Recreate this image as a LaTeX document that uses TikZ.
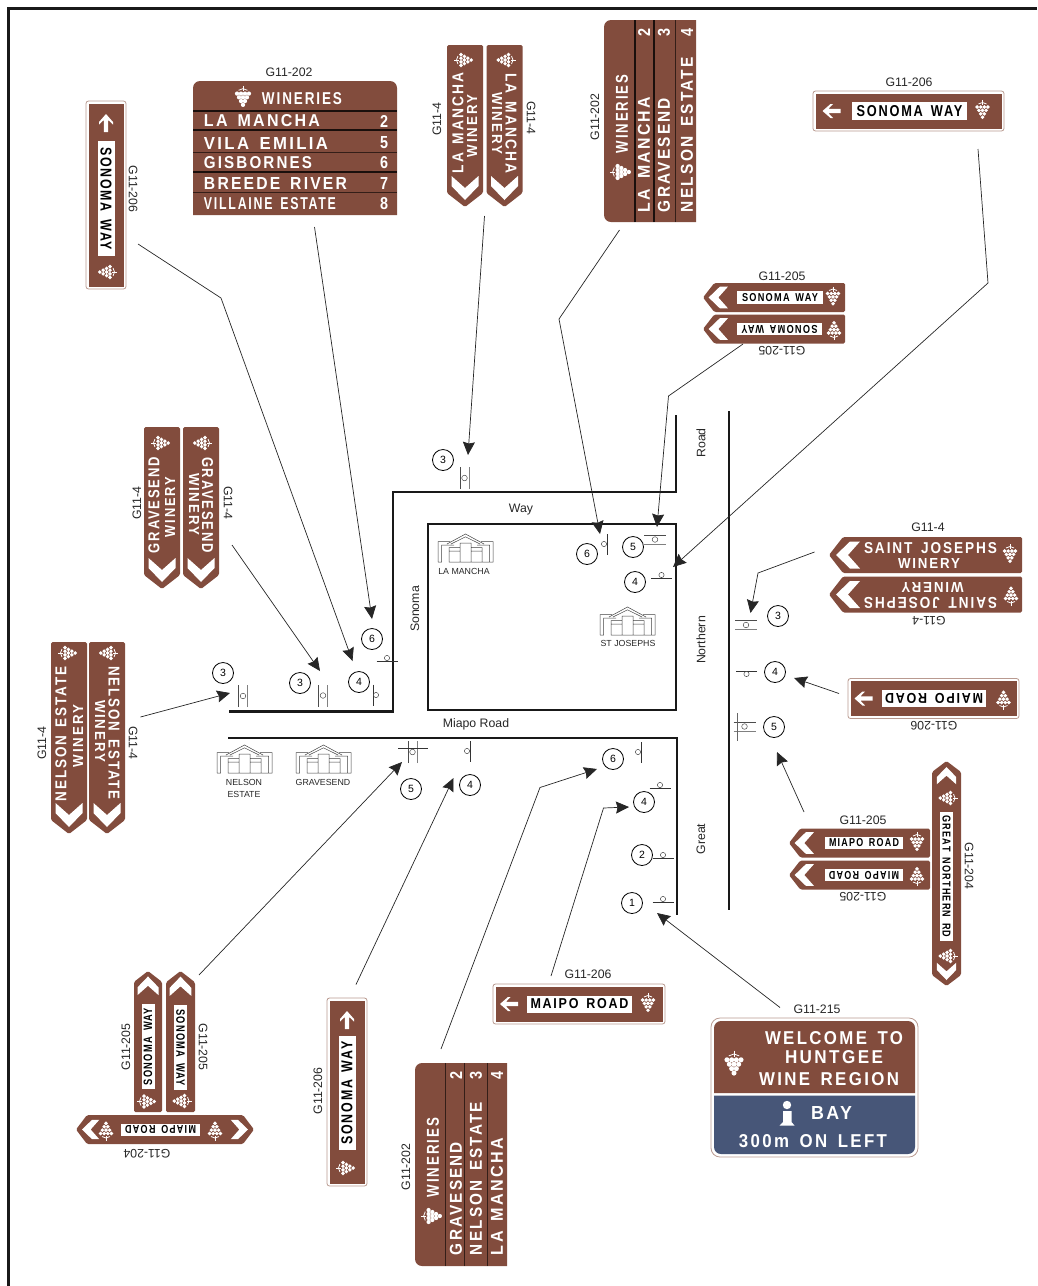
\documentclass[tikz,border=0pt]{standalone}
\usepackage{fontspec}
\usepackage{graphicx}
\usetikzlibrary{arrows.meta}
\setmainfont{Liberation Sans}
\newfontfamily\signfont[LetterSpace=14,WordSpace=1.5]{Liberation Sans}
\definecolor{signbrown}{HTML}{824C3D}
\definecolor{signblue}{HTML}{475678}
\definecolor{signedge}{HTML}{B99A90}
\tikzset{
  road/.style={line width=2.4pt,black!90},
  leader/.style={line width=.7pt,black!85,-{Stealth[length=13pt,width=12pt,inset=1.5pt]}},
  signtext/.style={transform shape,inner sep=0pt,outer sep=0pt},
  signrim/.style={fill=white,draw=signedge,line width=.8pt},
  signrule/.style={line width=1.2pt,black!80!signbrown},
  signrule thin/.style={line width=.6pt,black!60!signbrown},
  signcode/.style={inner sep=0pt,font=\fontsize{12.3}{14}\selectfont,black!85},
  roadname/.style={inner sep=0pt,font=\fontsize{12.3}{14}\selectfont,black!85},
  housename/.style={inner sep=0pt,font=\fontsize{8.8}{10}\selectfont,black!85},
  stage/.style={circle,draw,line width=.8pt,minimum size=21pt,inner sep=0pt,font=\fontsize{10.5}{12}\selectfont},
  grape/.pic={
    \draw[white,line width=.8pt] (0,-11) -- (0,-6);
    \draw[white,line width=.8pt] (-4,-7) -- (0,-8.5) -- (4,-7);
    \foreach \gx/\gy in {-5.4/-4,-1.8/-4,1.8/-4,5.4/-4,-3.6/-.6,0/-.6,3.6/-.6,-1.8/2.8,1.8/2.8,0/6.2}
    \fill[white] (\gx,\gy) circle [radius=1.95pt];
  },
  chevron/.pic={
    \fill[white] (0,0) -- (14,-13.5) -- (24,-13.5) -- (12,0) -- (24,13.5) -- (14,13.5) -- cycle;
  },
  signarrow/.pic={
    \fill[white] (-9,0) -- (-1,-7) -- (1.5,-7) -- (-3,-2.2) -- (9,-2.2) -- (9,2.2) -- (-3,2.2) -- (1.5,7) -- (-1,7) -- cycle;
  },
  post/.pic={
    \draw[line width=.7pt,black!80] (-10.5,0) -- (10.5,0);
    \draw[line width=.5pt,black!70] (0,-3) circle [radius=2.6pt];
  },
  postpair/.pic={
    \draw[line width=.7pt,black!70] (-11,-4.5) -- (11,-4.5);
    \draw[line width=.7pt,black!50] (-11,4.5) -- (11,4.5);
    \draw[line width=.5pt,black!70] (0,0) circle [radius=2.8pt];
  },
  house/.pic={
    \draw[line width=.5pt,black!75]
      (9,10) -- (27.5,0) -- (46,10) (13,10) -- (27.5,2.8) -- (42,10)
      (0,28) -- (0,7.5) -- (12,7.5) (43,7.5) -- (55,7.5) -- (55,28) -- (44,28)
      (0,28) -- (3.5,28) -- (3.5,11) -- (16,11) (39,11) -- (51.5,11) -- (51.5,28)
      (11,17) rectangle (22,28) (33,17) rectangle (44,28)
      (22,17) -- (22,9) -- (33,9) -- (33,17) (22,28) -- (33,28)
      (11,17) -- (11,13.5) -- (22,13.5) (33,13.5) -- (44,13.5) -- (44,17);
  }
}
\newcommand{\signword}[7][white]{%
  \node[signtext,text=#1] (#2) at (#3,#4) {\resizebox{#5pt}{#6pt}{\signfont\bfseries #7}};}
\newcommand{\panelword}[7]{%
  \fill[white] (#2-#3/2,-#4/2) rectangle (#2+#3/2,#4/2);
  \signword[black]{#1}{#2}{0}{#5}{#6}{#7}}
\newcommand{\boardsign}[4]{%
  \begin{scope}[shift={(#1)},rotate=#2,transform shape]
    \draw[signrim,rounded corners=2.5pt] (-#3/2,-20) rectangle (#3/2,20);
    \fill[signbrown] (-#3/2+2.5,-17.5) rectangle (#3/2-2.5,17.5);
    #4
  \end{scope}}
\newcommand{\fingersign}[6]{%
  \begin{scope}[shift={(#1)},rotate=#2,transform shape]
    \fill[signbrown,rounded corners=1.5pt] (-#4/2,0) -- (-#4/2+14*#5/36,-#5/2) -- (#4/2,-#5/2)
      -- (#4/2,#5/2) -- (-#4/2+14*#5/36,#5/2) -- cycle;
    \pic[scale=#5/36] at (-#4/2+7*#5/36,0) {chevron};
    \begin{scope}[rotate=#3]
      #6
    \end{scope}
  \end{scope}}
\newcommand{\doublesign}[5]{%
  \begin{scope}[shift={(#1)},rotate=#2,transform shape]
    \fill[signbrown,rounded corners=1.5pt] (-#3/2,0) -- (-#3/2+11,-#4/2) -- (#3/2-11,-#4/2)
      -- (#3/2,0) -- (#3/2-11,#4/2) -- (-#3/2+11,#4/2) -- cycle;
    \pic[scale=.72] at (-#3/2+6,0) {chevron};
    \pic[scale=.72,rotate=180] at (#3/2-6,0) {chevron};
    #5
  \end{scope}}
\newcommand{\wineryboard}[5]{%
  \begin{scope}[shift={(#1)},rotate=#2,transform shape]
    \fill[signbrown] (-#3/2,#4/2) [rounded corners=7pt] -- (-#3/2,-#4/2) -- (#3/2,-#4/2)
      [sharp corners] -- (#3/2,#4/2) -- cycle;
    #5
  \end{scope}}
\begin{document}
\begin{tikzpicture}[x=1pt,y=-1pt]
  \useasboundingbox (0,0) rectangle (1037,1286);
  \draw[line width=2.6pt,black!90] (8.5,1286) -- (8.5,8.5) -- (1037,8.5);

  \draw[road] (676,415) -- (676,492) -- (393,492) -- (393,711.5) -- (229,711.5);
  \draw[road] (428,524) rectangle (676,710);
  \draw[road] (228,738) -- (677,738) -- (677,915);
  \draw[road] (729,411) -- (729,910);

  \node[roadname,rotate=90] (rdRoad) at (701,443) {Road};
  \node[roadname,rotate=90] (rdNorthern) at (701,640) {Northern};
  \node[roadname,rotate=90] (rdGreat) at (701,839) {Great};
  \node[roadname] (rdWay) at (521,510) {Way};
  \node[roadname,rotate=90] (rdSonoma) at (415,609) {Sonoma};
  \node[roadname] (rdMiapo) at (476,724) {Miapo Road};

  \pic at (438,534) {house};
  \pic at (600,607) {house};
  \pic at (217,745) {house};
  \pic at (296,745) {house};
  \node[housename] (hsLaMancha) at (464,571) {LA MANCHA};
  \node[housename] (hsStJosephs) at (628,643) {ST JOSEPHS};
  \node[housename] (hsNelson) at (244,782) {NELSON};
  \node[housename] (hsEstate) at (244,794) {ESTATE};
  \node[housename] (hsGravesend) at (323,782) {GRAVESEND};

  \foreach \x/\y/\r in {373/695/-90,387/661/0,607/544/90,661.5/578/0,470/751/90,641/752/90,660/788/0,663/858/0,663/902/0,746.5/671/180}
  \pic[rotate=\r] at (\x,\y) {post};
  \foreach \x/\y/\r in {464.5/478/90,243/696/90,323/695.5/90,655/539.5/0,746/625/0,412.5/752/90,744.5/726.5/0}
  \pic[rotate=\r] at (\x,\y) {postpair};
  \draw[line width=.7pt,black!80] (398,748) -- (428,748);
  \draw[line width=.7pt,black!60] (737,713) -- (737,741);

  \foreach \id/\x/\y/\n in {a/443/460/3,b/223/673/3,c/300/683/3,d/359/682/4,e/372/639/6,f/587/554/6,g/633/547/5,h/635/582/4,i/411/789/5,j/470/785/4,k/613/759/6,l/644/802/4,m/642/855/2,n/632/903/1,o/778/616/3,p/775/672/4,q/774/727/5}
  \node[stage] (st\id) at (\x,\y) {\n};

  \foreach \id/\x/\y/\r/\t in {1/289/72/0/G11-202,2/133/189/-90/G11-206,3/437/119/90/G11-4,4/531/118/-90/G11-4,5/595/117/90/G11-202,6/909/82/0/G11-206,7/782/276/0/G11-205,8/782/351/180/G11-205,9/137/503/90/G11-4,10/228/503/-90/G11-4,11/42/743/90/G11-4,12/133/743/-90/G11-4,13/928/527/0/G11-4,14/929/621/180/G11-4,15/934/726/180/G11-206,16/863/820/0/G11-205,17/863/897/180/G11-205,18/969/866/-90/G11-204,19/588/974/0/G11-206,20/817/1009/0/G11-215,21/126/1047/90/G11-205,22/203/1047/-90/G11-205,23/147/1154/180/G11-204,24/318/1091/90/G11-206,25/406/1167/90/G11-202}
  \node[signcode,rotate=\r] (code\id) at (\x,\y) {\t};

  \boardsign{106,195}{-90}{188}{
    \pic at (-72,0) {signarrow};
    \panelword{swLeftName}{3.5}{115}{17}{103}{11}{SONOMA WAY}
    \pic at (77,0) {grape};
  }
  \boardsign{908.5,111}{0}{191}{
    \pic at (-77,0) {signarrow};
    \panelword{swTopName}{1}{115}{18}{106}{11}{SONOMA WAY}
    \pic at (74,0) {grape};
  }
  \boardsign{347,1092}{90}{188}{
    \pic[rotate=180] at (72,0) {signarrow};
    \panelword{swLowName}{-1}{114}{17}{103}{11}{SONOMA WAY}
    \pic at (-76,0) {grape};
  }
  \boardsign{579,1004}{0}{172}{
    \pic at (-70,0) {signarrow};
    \panelword{mrLowName}{.5}{105}{17}{98}{10}{MAIPO ROAD}
    \pic at (69,0) {grape};
  }
  \boardsign{933.5,698.5}{180}{171}{
    \pic[rotate=180] at (70,0) {signarrow};
    \panelword{mrRightName}{-.5}{104}{17}{98}{10}{MAIPO ROAD}
    \pic at (-70,0) {grape};
  }

  \fingersign{465,126}{90}{0}{162}{36}{
    \signword{lmLeftA}{3}{-7}{100}{11}{LA MANCHA}
    \signword{lmLeftB}{0}{7}{62}{10}{WINERY}
    \pic at (66,0) {grape};
  }
  \fingersign{504.5,126}{90}{180}{162}{36}{
    \signword{lmRightA}{-3}{-6.5}{100}{11}{LA MANCHA}
    \signword{lmRightB}{-3}{7.5}{62}{10}{WINERY}
    \pic at (-66,0) {grape};
  }
  \fingersign{162,508}{90}{0}{162}{36}{
    \signword{gvLeftA}{3}{-8}{96}{11}{GRAVESEND}
    \signword{gvLeftB}{1}{8}{60}{10}{WINERY}
    \pic at (65,0) {grape};
  }
  \fingersign{201,508}{90}{180}{162}{36}{
    \signword{gvRightA}{-3}{-6.5}{96}{11}{GRAVESEND}
    \signword{gvRightB}{-4}{7}{62}{10}{WINERY}
    \pic at (-65,0) {grape};
  }
  \fingersign{69,738}{90}{0}{192}{36}{
    \signword{neLeftA}{4}{-8}{135}{11}{NELSON ESTATE}
    \signword{neLeftB}{2}{9}{62}{10}{WINERY}
    \pic at (85,0) {grape};
  }
  \fingersign{107,738}{90}{180}{192}{36}{
    \signword{neRightA}{-5}{-7}{133}{11}{NELSON ESTATE}
    \signword{neRightB}{-7}{7}{62}{10}{WINERY}
    \pic at (-85,0) {grape};
  }
  \fingersign{925.5,555}{0}{0}{193}{36}{
    \signword{sjUpA}{5}{-7}{133}{11}{SAINT JOSEPHS}
    \signword{sjUpB}{3.5}{8}{62}{10}{WINERY}
    \pic at (84.5,0) {grape};
  }
  \fingersign{925.5,594.5}{0}{180}{193}{36}{
    \signword{sjLowA}{-5}{-8.5}{133}{11}{SAINT JOSEPHS}
    \signword{sjLowB}{-7}{7.5}{62}{10}{WINERY}
    \pic at (-85.5,0) {grape};
  }
  \fingersign{774,297.5}{0}{0}{142}{29}{
    \panelword{swUpName}{6}{86}{12.5}{76}{8}{SONOMA WAY}
    \pic at (59,0) {grape};
  }
  \fingersign{774,329}{0}{180}{142}{29}{
    \panelword{swDownName}{-5.5}{85}{12.5}{76}{8}{SONOMA WAY}
    \pic at (-60,0) {grape};
  }
  \fingersign{859.5,843}{0}{0}{141}{29}{
    \panelword{mrUpName}{4.5}{78}{12.5}{70}{8}{MIAPO ROAD}
    \pic at (57.5,0) {grape};
  }
  \fingersign{859.5,875}{0}{180}{141}{29}{
    \panelword{mrDownName}{-4.5}{78}{12.5}{70}{8}{MIAPO ROAD}
    \pic at (-57.5,0) {grape};
  }
  \fingersign{148,1041.5}{-90}{180}{141}{28}{
    \panelword{swPairA}{-5}{85}{13}{77}{8.5}{SONOMA WAY}
    \pic at (-60,0) {grape};
  }
  \fingersign{180.5,1041.5}{-90}{0}{141}{29}{
    \panelword{swPairB}{6}{85}{13}{77}{8.5}{SONOMA WAY}
    \pic at (59.5,0) {grape};
  }

  \doublesign{165,1129.5}{180}{178}{29}{
    \panelword{mrEndName}{4.5}{79}{12}{71}{8}{MIAPO ROAD}
    \pic at (59,0) {grape};
    \pic at (-50,0) {grape};
  }
  \doublesign{946.5,873.5}{-90}{225}{29}{
    \panelword{gnEndName}{3}{129}{12.7}{122}{8}{GREAT NORTHERN RD}
    \pic at (-75.5,0) {grape};
    \pic at (82.5,0) {grape};
  }

  \wineryboard{295,148}{0}{204}{134}{
    \foreach \y in {-37,-18,24}
    \draw[signrule] (-102,\y) -- (102,\y);
    \foreach \y in {4,44}
    \draw[signrule thin] (-102,\y) -- (102,\y);
    \pic[scale=1.1] at (-52,-50) {grape};
    \signword{wbTitle}{7}{-49}{80}{12}{WINERIES}
    \signword{wbRowA}{-33}{-27}{116}{12}{LA MANCHA}
    \signword{wbRowB}{-29}{-5}{124}{12}{VILA EMILIA}
    \signword{wbRowC}{-37}{15}{108}{12}{GISBORNES}
    \signword{wbRowD}{-19.5}{35}{143}{12}{BREEDE RIVER}
    \signword{wbRowE}{-25}{56}{132}{12}{VILLAINE ESTATE}
    \signword{wbNumA}{89}{-27}{8}{12}{2}
    \signword{wbNumB}{89}{-5}{8}{12}{5}
    \signword{wbNumC}{89}{15}{8}{12}{6}
    \signword{wbNumD}{89}{35}{8}{12}{7}
    \signword{wbNumE}{89}{56}{8}{12}{8}
  }
  \wineryboard{650,121}{90}{202}{92}{
    \foreach \y in {-15,4}
    \draw[signrule] (-101,\y) -- (101,\y);
    \draw[signrule thin] (-101,25) -- (101,25);
    \pic[scale=1.1] at (-51,-28) {grape};
    \signword{wtTitle}{7}{-28}{78}{12}{WINERIES}
    \signword{wtRowA}{-33.5}{-6}{115}{12}{LA MANCHA}
    \signword{wtRowB}{-34}{14}{114}{12}{GRAVESEND}
    \signword{wtRowC}{-13.5}{37}{155}{12}{NELSON ESTATE}
    \signword{wtNumA}{89}{-6}{8}{12}{2}
    \signword{wtNumB}{89}{14}{8}{12}{3}
    \signword{wtNumC}{89}{37}{8}{12}{4}
  }
  \wineryboard{461,1164.5}{90}{203}{92}{
    \foreach \y in {-16,3,26}
    \draw[signrule thin] (-101.5,\y) -- (101.5,\y);
    \pic[scale=1.1] at (-51.5,-28) {grape};
    \signword{wlTitle}{7}{-28}{79}{12}{WINERIES}
    \signword{wlRowA}{-34}{-5}{113}{12}{GRAVESEND}
    \signword{wlRowB}{-14}{15}{153}{12}{NELSON ESTATE}
    \signword{wlRowC}{-32}{36}{117}{12}{LA MANCHA}
    \signword{wlNumA}{89.5}{-5}{8}{12}{2}
    \signword{wlNumB}{89.5}{15}{8}{12}{3}
    \signword{wlNumC}{89.5}{36}{8}{12}{4}
  }

  \draw[signrim,rounded corners=9pt] (711,1018) rectangle (918,1157);
  \fill[signbrown] (714,1093) [rounded corners=7pt] -- (714,1021) -- (915,1021) [sharp corners] -- (915,1093) -- cycle;
  \fill[signblue] (714,1095.5) [rounded corners=7pt] -- (714,1154) -- (915,1154) [sharp corners] -- (915,1095.5) -- cycle;
  \pic[scale=1.3] at (734,1065) {grape};
  \signword{wcLineA}{834}{1038}{138}{13}{WELCOME TO}
  \signword{wcLineB}{834}{1057}{98}{13}{HUNTGEE}
  \signword{wcLineC}{829}{1079}{140}{13}{WINE REGION}
  \signword{wcBay}{831.5}{1113}{41}{13}{BAY}
  \signword{wcLineD}{813}{1141}{148}{13}{300m ON LEFT}
  \fill[white] (787,1105) circle [radius=4.2pt];
  \fill[white] (783,1111) -- (791.5,1111) -- (791.5,1122) -- (794.5,1125.5) -- (779.5,1125.5) -- (783,1122) -- cycle;

  \foreach \name/\x/\y in {sonL/138/244,sonLb/221/298,sonLt/352.5/661,wbS/314.5/227,wbT/372/619,lmS/484.5/216,lmT/468/455,wtS/619.5/230,wtB/559/319,wtT/600/534,swS/743/344,swB/668.5/396,swT/657/527,topS/978/149,topB/988/283,topT/673/567,sjS/814.5/552,sjB/758/573,sjT/750.5/613,mrS/839/693.5,mrT/794/678,miS/804/812,miT/777/752,wcS/780/1007.5,wcT/657/913,mrlS/551/976,mrlB/603.5/808,mrlT/629/807,wlS/441/1049,wlB/540/787.5,wlT/597/769,swlS/356/984.5,swlT/453.5/778,spS/199/975,spT/402/762,neS/140.5/717,neT/230/693,gvS/232/545,gvT/320/671}
  \coordinate (\name) at (\x,\y);

  \draw[leader] (sonL) -- (sonLb) -- (sonLt);
  \draw[leader] (wbS) -- (wbT);
  \draw[leader] (lmS) -- (lmT);
  \draw[leader] (wtS) -- (wtB) -- (wtT);
  \draw[leader] (swS) -- (swB) -- (swT);
  \draw[leader] (topS) -- (topB) -- (topT);
  \draw[leader] (sjS) -- (sjB) -- (sjT);
  \draw[leader] (mrS) -- (mrT);
  \draw[leader] (miS) -- (miT);
  \draw[leader] (wcS) -- (wcT);
  \draw[leader] (mrlS) -- (mrlB) -- (mrlT);
  \draw[leader] (wlS) -- (wlB) -- (wlT);
  \draw[leader] (swlS) -- (swlT);
  \draw[leader] (spS) -- (spT);
  \draw[leader] (neS) -- (neT);
  \draw[leader] (gvS) -- (gvT);
\end{tikzpicture}
\end{document}
